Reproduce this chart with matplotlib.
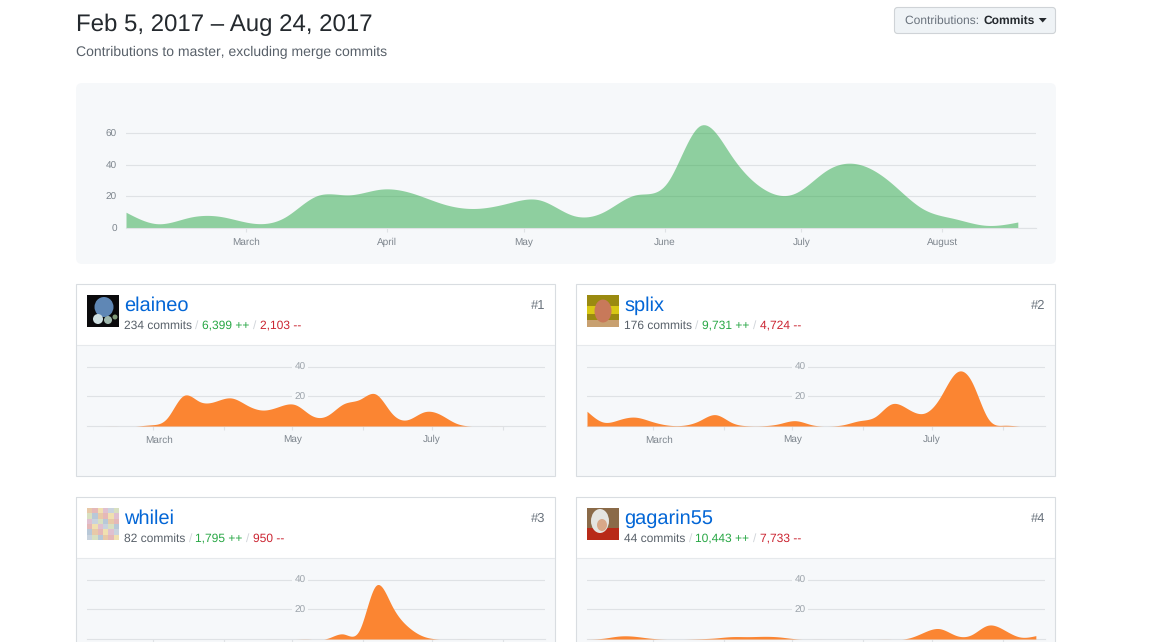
import datetime as dt
import numpy as np
import matplotlib
matplotlib.use('Agg')
import matplotlib.pyplot as plt
import matplotlib.dates as mdates
from matplotlib.patches import Rectangle, FancyBboxPatch, Circle, Ellipse, Polygon
from matplotlib.transforms import ScaledTranslation

plt.rcParams['font.family'] = ['Liberation Sans', 'DejaVu Sans']
plt.rcParams['text.hinting'] = 'no_hinting'
plt.rcParams['text.hinting_factor'] = 1

W, H = 1152, 642

# weekly commits, Feb 5 to Aug 20
total_commits = [10, 2.7, 6.8, 7.2, 3, 7, 20.5, 21, 24.6, 22, 15, 12.4, 15.8, 17.7, 8.2,
                 10.3, 21, 29, 64.6, 46, 25, 22, 36.6, 40.4, 29, 12.4, 6, 1.7, 3.8]
elaineo_commits = [0, 0, 0, 0, 0.8, 5.5, 20.5, 16.7, 16.7, 19, 14, 10.8, 13.3, 14.4, 7.2,
                   7.2, 15, 18, 21.7, 8.8, 4.3, 9.5, 8, 2, 0, 0, 0, 0, 0]
splix_commits = [10, 2.7, 4.3, 6, 3.2, 0.7, 0.5, 3.6, 7.7, 2.5, 0.2, 0.2, 1.6, 3.6, 0.9,
                 0, 0.9, 3.6, 6.5, 15, 11.7, 8.6, 19, 36, 30, 5.4, 0.5, 0, 0]
whilei_commits = [0, 0, 0, 0, 0, 0, 0, 0, 0, 0, 0, 0, 0, 0, 0,
                  0.5, 3.4, 6.3, 36, 23, 8.6, 1.8, 0, 0, 0, 0, 0, 0, 0]
gagarin_commits = [0, 0.5, 2, 1.8, 0.5, 0, 0, 0.2, 0.7, 1.6, 1.6, 1.8, 1.4, 0.2, 0,
                   0, 0, 0, 0, 0, 0.5, 4.5, 7, 2.5, 3, 9.3, 6.3, 1.4, 2.3]

start = dt.datetime(2017, 2, 5)
end = dt.datetime(2017, 8, 24)
weeks = [start + dt.timedelta(days=7 * i) for i in range(29)]

main_ticks = [dt.datetime(2017, m, 3, 10) for m in range(3, 9)]
main_labels = ['March', 'April', 'May', 'June', 'July', 'August']
card_ticks = [dt.datetime(2017, m, 5, 17) for m in range(3, 9)]
card_labels = ['March', '', 'May', '', 'July', '']

GRID = '#dfe2e5'
LABEL = '#7d858d'
PANEL = '#f6f8fa'


def smooth(x, y, n=16):
    # cubic b-spline forced through the weekly values
    x = np.asarray(x, dtype=float)
    y = np.asarray(y, dtype=float)
    m = len(y)
    A = np.zeros((m, m))
    for i in range(1, m - 1):
        A[i, i - 1:i + 2] = [1 / 6, 4 / 6, 1 / 6]
    A[0, 0] = A[-1, -1] = 1
    c = np.linalg.solve(A, y)
    p = np.concatenate(([2 * c[0] - c[1]], c, [2 * c[-1] - c[-2]]))
    xs, ys = [], []
    t = np.linspace(0, 1, n, endpoint=False)
    for i in range(m - 1):
        p0, p1, p2, p3 = p[i], p[i + 1], p[i + 2], p[i + 3]
        ys.append(((1 - t) ** 3 * p0 + (3 * t ** 3 - 6 * t ** 2 + 4) * p1
                   + (-3 * t ** 3 + 3 * t ** 2 + 3 * t + 1) * p2 + t ** 3 * p3) / 6)
        xs.append(x[i] + (x[i + 1] - x[i]) * t)
    xs.append(x[-1:])
    ys.append(y[-1:])
    return np.concatenate(xs), np.clip(np.concatenate(ys), 0, None)


def px_axes(left, top, right, bottom, pad):
    ax = fig.add_axes([left / W, 1 - bottom / H, (right - left) / W, (bottom - top) / H])
    ax.patch.set_alpha(0)
    ax.set_xlim(start, end)
    for s in ['top', 'left', 'right']:
        ax.spines[s].set_visible(False)
    ax.spines['bottom'].set_color(GRID)
    ax.spines['bottom'].set_linewidth(0.8)
    ax.set_axisbelow(True)
    ax.grid(axis='y', color=GRID, linewidth=0.8)
    ax.tick_params(axis='x', color=GRID, length=3, width=0.8, labelsize=7.3,
                   labelcolor=LABEL, pad=pad)
    return ax


fig = plt.figure(figsize=(W / 100, H / 100), dpi=100, facecolor='white')
page = fig.add_axes([0, 0, 1, 1])
page.set_xlim(0, W)
page.set_ylim(H, 0)
page.axis('off')


def stat_line(x, y, parts):
    for txt, color in parts:
        t = page.text(x, y, txt, color=color, fontsize=8.65, va='center')
        x = t.get_window_extent(fig.canvas.get_renderer()).x1 + 3.4


# header
page.text(76, 24.5, 'Feb 5, 2017 – Aug 24, 2017', fontsize=17.3, color='#24292e', va='center')
page.text(76, 52, 'Contributions to master, excluding merge commits', fontsize=10.1,
          color='#586069', va='center')
page.add_patch(FancyBboxPatch((894.5, 7.5), 161, 26, boxstyle='round,pad=0,rounding_size=3',
                              fc='#eff3f6', ec='#cfd3d7', lw=0.8))
t = page.text(905, 20.5, 'Contributions: ', fontsize=8.65, color='#6a737d', va='center')
x1 = t.get_window_extent(fig.canvas.get_renderer()).x1
t = page.text(x1 + 1, 20.5, 'Commits', fontsize=8.65, color='#24292e', va='center', fontweight='bold')
x1 = t.get_window_extent(fig.canvas.get_renderer()).x1
page.add_patch(Polygon([(x1 + 4, 18), (x1 + 12, 18), (x1 + 8, 22.5)], fc='#24292e', ec='none'))

# main panel
page.add_patch(FancyBboxPatch((76, 83), 980, 181, boxstyle='round,pad=0,rounding_size=6',
                              fc=PANEL, ec='none'))

ax = px_axes(126, 117.5, 1036, 228, 4)
ax.set_ylim(0, 70)
xs, ys = smooth(mdates.date2num(weeks), total_commits)
ax.fill_between(xs, 0, ys, color='#28a745', alpha=0.5, lw=0)
ax.set_yticks([0, 20, 40, 60])
ax.tick_params(axis='y', length=0, labelsize=7.3, labelcolor=LABEL, pad=6.5)
ax.set_xticks(main_ticks)
ax.set_xticklabels(main_labels)


def card(left, top, name, rank, commits, plus, minus, values, show_months=True):
    right = left + 480
    page.add_patch(Rectangle((left, top), 479, 192, fc=PANEL, ec='none'))
    page.add_patch(Rectangle((left, top), 479, 61, fc='white', ec='none'))
    page.add_patch(Rectangle((left, top), 479, 192, fc='none', ec='#d9dde1', lw=0.8))
    page.plot([left + 1, right - 2], [top + 61, top + 61], color='#e6e9ec', lw=0.8)
    page.text(left + 48, top + 22, name, fontsize=14.4, color='#0366d6', va='center')
    page.text(right - 11, top + 22, rank, fontsize=9.6, color='#6a737d', va='center', ha='right')
    stat_line(left + 48, top + 41.5, [(commits, '#586069'), ('/', '#d1d5da'),
                                      (plus, '#28a745'), ('/', '#d1d5da'), (minus, '#cb2431')])

    a = px_axes(left + 11, top + 75.6, left + 469, top + 142, 3.6)
    a.set_ylim(0, 45)
    xs, ys = smooth(mdates.date2num(weeks), values)
    a.fill_between(xs, 0, ys, color='#fb8532', lw=0, zorder=3)
    a.set_yticks([20, 40])
    a.set_yticklabels([])
    a.tick_params(axis='y', length=0)
    a.set_xticks(card_ticks)
    # month labels of the lower cards fall below the visible part of the page
    a.set_xticklabels(card_labels if show_months else [''] * 6)
    if show_months:
        # March label is pushed right of centre on the page
        lab = a.get_xticklabels()[0]
        lab.set_ha('left')
        lab.set_transform(lab.get_transform() + ScaledTranslation(-7.4 / 100, 0, fig.dpi_scale_trans))
    for v in [20, 40]:
        a.text(dt.datetime(2017, 5, 9), v - 0.5, str(v), fontsize=7.3, color='#9ea5ac', ha='center',
               va='center', bbox=dict(fc=PANEL, ec='none', pad=1.5), zorder=2)
    return a


card(76, 284, 'elaineo', '#1', '234 commits', '6,399 ++', '2,103 --', elaineo_commits)
card(576, 284, 'splix', '#2', '176 commits', '9,731 ++', '4,724 --', splix_commits)
card(76, 497, 'whilei', '#3', '82 commits', '1,795 ++', '950 --', whilei_commits, False)
card(576, 497, 'gagarin55', '#4', '44 commits', '10,443 ++', '7,733 --', gagarin_commits, False)

# avatars
page.add_patch(Rectangle((87, 295), 32, 32, fc='#0a0a0c', ec='none'))
page.add_patch(Ellipse((104, 307), 19, 20, fc='#5f87b5', ec='none'))
page.add_patch(Circle((98, 319), 5, fc='#cfe0e2', ec='none'))
page.add_patch(Circle((108, 320), 4, fc='#9fb8ae', ec='none'))
page.add_patch(Circle((115, 317), 2.5, fc='#7f9a78', ec='none'))

page.add_patch(Rectangle((587, 295), 32, 32, fc='#9a8a10', ec='none'))
page.add_patch(Rectangle((587, 306), 32, 8, fc='#d8c814', ec='none'))
page.add_patch(Rectangle((587, 320), 32, 7, fc='#c8a070', ec='none'))
page.add_patch(Ellipse((603, 311), 17, 23, fc='#c8795a', ec='none'))

mosaic = ['#e8c9a8', '#c9d3de', '#e5b8b8', '#d8e0c0', '#f0e0b0', '#b8c8d8', '#e0c0d0']
for i in range(6):
    for j in range(6):
        page.add_patch(Rectangle((87 + j * 5.33, 508 + i * 5.33), 5.33, 5.33,
                                 fc=mosaic[(i * 3 + j * 2) % 7], ec='none'))

page.add_patch(Rectangle((587, 508), 32, 32, fc='#8a6a48', ec='none'))
page.add_patch(Rectangle((587, 528), 32, 12, fc='#b82a18', ec='none'))
page.add_patch(Ellipse((600, 521), 18, 24, fc='#e4e4e0', ec='none'))
page.add_patch(Ellipse((602, 525), 10, 12, fc='#d8a888', ec='none'))

fig.savefig('out.png', dpi=100, facecolor='white')
